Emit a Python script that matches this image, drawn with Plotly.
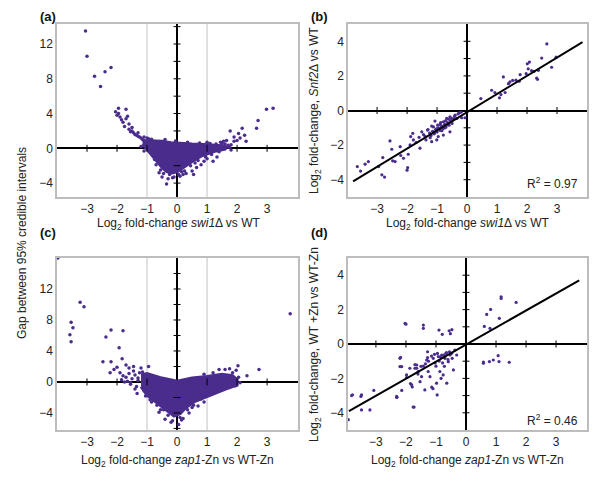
import plotly.graph_objects as go

PURPLE = "#4a2c8c"
FONT = "Liberation Sans, Arial, sans-serif"
TXT = "#222222"

# page body adds an 8px margin, so the figure is laid out 8px smaller
OFF = 8
W, H = 600 - OFF, 490 - OFF

# ---- panel (a): swi1 volcano-like plot ----
a_core_x = [-1.15, -0.9, -0.5, -0.2, 0.1, 0.5, 0.9, 1.2, 1.5, 1.65,
            1.6, 1.3, 1.05, 0.8, 0.6, 0.4, 0.2, 0.0, -0.2, -0.35,
            -0.5, -0.65, -0.8, -0.95, -1.05, -1.15]
a_core_y = [0.9, 0.85, 0.8, 0.65, 0.55, 0.5, 0.45, 0.4, 0.3, 0.15,
            -0.1, -0.3, -0.6, -0.9, -1.3, -1.8, -2.3, -2.7, -2.85, -2.65,
            -2.2, -1.6, -1.0, -0.4, 0.1, 0.5]
a_pts_x = [-3.05, -3.0, -2.75, -2.4, -2.2, -2.55,
           -2.05, -1.95, -1.95, -1.7, -1.65, -1.9, -1.8, -1.6, -1.75, -1.6,
           -1.5, -1.45, -1.4, -1.3, -1.25, -1.55, -1.35, -1.2, -1.1, -0.95,
           -2.0, -1.85, -1.7, -1.5, -1.3, -1.0, -1.15, -1.05,
           -0.35, -0.3, -0.5, -0.1, 0.1, 0.3, 0.5, 0.55, 0.65, 0.8, 0.9,
           1.2, 1.0, 1.3, -0.6, -0.15, 0.2,
           1.45, 1.55, 1.65, 1.8, 1.9, 2.05, 2.1, 2.25, 2.3, 2.0, 1.75,
           1.8, 2.65, 2.7, 2.98, 3.2, 1.77, 1.9, 2.17, 1.33, 1.0,
           -0.7, -0.55, -0.45, -0.25, 0.05, 0.25, 0.45, 0.7, 0.95, 1.15, 1.4,
           -0.85, -0.4, -0.05, 0.35, 0.75, 1.1, -1.2, -1.1, -0.75, 0.15, 0.6,
           1.5, 1.6, 1.7]
a_pts_y = [13.5, 10.6, 8.3, 8.8, 9.3, 7.1,
           4.2, 4.6, 4.0, 4.5, 3.7, 3.6, 3.0, 2.8, 2.5, 2.2,
           2.0, 1.8, 1.6, 1.4, 1.3, 1.9, 1.5, 1.2, 1.3, 1.1,
           3.8, 3.3, 3.4, 2.4, 1.8, 1.2, 1.0, 0.7,
           -4.1, -3.5, -3.3, -3.3, -3.2, -2.9, -2.6, -3.0, -2.2, -1.9, -1.5,
           -1.5, 0.7, 0.5, -2.8, -3.4, -3.0,
           0.7, 0.8, 0.9, 0.4, 0.8, 1.7, 1.2, 1.5, 0.8, 0.9, 0.1,
           -0.2, 2.3, 3.2, 4.5, 4.6, 2.0, 1.3, 2.3, -1.0, -1.2,
           -1.9, -2.5, -2.9, -3.0, -3.0, -2.6, -2.0, -1.4, -1.0, -0.7, -0.4,
           1.05, 1.0, 0.85, 0.7, 0.6, 0.55, 0.2, -0.3, -1.3, -2.7, -1.7,
           0.55, 0.5, 0.35]

# ---- panel (c): zap1 volcano-like plot ----
c_core_x = [-1.2, -1.0, -0.5, 0.0, 0.5, 1.0, 1.5, 1.85, 2.0,
            2.0, 1.7, 1.3, 1.0, 0.6, 0.3, 0.1, -0.1, -0.3, -0.5,
            -0.8, -1.0, -1.2]
c_core_y = [0.9, 1.1, 0.5, 0.1, 0.5, 0.7, 1.0, 0.8, 0.3,
            -0.4, -0.8, -1.4, -1.9, -2.5, -3.3, -4.1, -4.4, -3.8, -3.1,
            -2.3, -1.7, -0.6]
c_pts_x = [-3.97, -3.23, -3.1, -3.53, -3.47, -3.57, -3.53,
           -2.2, -2.37, -1.8, -1.93, -2.47, -2.2, -1.83, -2.23, -2.0,
           -2.1, -1.7, -1.6, -1.45, -1.2, -0.95, -1.75, -1.55,
           3.77, 2.73, 2.33, 2.03, 1.97, 1.6, 1.75, 1.85, 1.4,
           -0.2, 0.05, -0.4, 0.2, -0.6, 0.4, -1.33, -0.9, -0.67, 0.7, 0.9,
           -1.9, -1.8, -1.7, -1.6, -1.5, -1.4, -1.3, -1.85, -1.65, -1.45, -1.35,
           -1.25, -1.55, -1.4, -1.3, -1.15, -1.1, -1.05, -0.85, -0.75,
           -0.45, -0.3, 0.1, 0.35, 0.55, 0.8, 1.1, 1.3, 1.55, 1.75, 1.95,
           2.1, 2.05, 1.2, 0.9, -0.15, 0.15, -0.55, 0.5]
c_pts_y = [16.0, 10.3, 9.7, 7.7, 7.0, 6.1, 5.2,
           6.7, 5.8, 6.6, 4.4, 2.6, 2.6, 3.0, 1.2, 1.9,
           1.6, 2.2, 1.8, 2.0, 1.8, 2.0, 0.0, -0.3,
           8.8, 1.6, 0.8, 2.1, 1.5, 1.6, 1.7, 1.2, 1.6,
           -5.2, -5.5, -4.8, -4.7, -3.9, -4.0, -1.5, -2.3, -3.0, -3.1, -2.6,
           1.2, 0.8, 0.6, 1.1, 0.4, 0.9, 0.2, 0.3, 0.1, 1.4, -0.6,
           1.2, -0.1, -0.9, 0.5, 1.3, -1.1, -1.8, -2.6, -2.0,
           -3.6, -4.3, -4.6, -3.6, -3.0, -2.2, -1.6, -1.2, -0.9, -0.7, -0.5,
           -0.1, 0.6, 1.2, 1.0, -5.0, -4.9, -3.6, -3.3]

# ---- panel (b): swi1 vs snf2 ----
b_x = [2.66, 2.97, 2.82, 2.49, 2.08, 2.01, 2.04, 2.15, 2.23, 2.38, 2.32, 2.35,
       1.97, 1.77, 1.74, 1.63, 1.52, 1.43, 1.38, 1.21, 1.27, 1.13, 1.08, 0.93,
       0.82, 0.46,
       -3.66, -3.4, -3.29, -2.84, -2.81, -2.95, -2.57, -2.51, -2.48, -2.4, -2.23,
       -2.21, -2.12, -1.96, -1.98, -1.9, -1.88, -1.81, -1.79, -1.57, -1.51, -1.37,
       -1.32, -1.23, -1.18, -1.09, -1.07, -1.01, -0.96, -0.9, -0.84, -0.79, -0.73,
       -0.68, -0.62, -0.57, -0.51, -0.4, -0.34, -0.26, -0.18, -0.07, -0.57, -0.79,
       -1.01, -1.18, -2.75, -2.0, -3.55,
       -1.25, -1.15, -1.05, -0.95, -0.85, -0.75, -0.65, -0.55, -0.45, -1.2, -1.1,
       -1.0, -0.9, -0.8, -0.7, -0.6, -0.5, -1.3, -1.4, -0.88, -0.72, -0.62, -0.98,
       -1.12, -0.52, -0.42, -1.45, -1.6, -1.7, -0.3, -0.2]
b_y = [3.85, 3.08, 2.5, 3.03, 2.8, 2.7, 2.41, 2.3, 2.26, 2.32, 1.88, 1.8,
       2.13, 2.07, 1.69, 1.75, 1.74, 1.65, 1.55, 1.94, 1.04, 0.92, 0.73, 1.04,
       1.17, 0.69,
       -3.24, -3.1, -2.95, -3.72, -2.72, -3.24, -1.76, -2.24, -2.91, -2.95, -2.09,
       -2.6, -2.76, -2.53, -3.3, -1.99, -1.51, -1.32, -1.7, -2.18, -1.23, -1.7,
       -1.13, -1.57, -0.9, -1.32, -0.61, -1.05, -1.51, -0.8, -1.17, -0.65, -1.0,
       -0.46, -0.82, -0.36, -0.63, -0.27, -0.46, -0.13, -0.42, -0.42, -1.23, -1.42,
       -1.7, -1.8, -3.85, -3.45, -3.5,
       -1.3, -1.2, -1.1, -1.0, -0.9, -0.8, -0.7, -0.6, -0.5, -1.45, -1.35,
       -1.25, -1.15, -1.05, -0.95, -0.85, -0.75, -1.1, -1.5, -0.7, -0.6, -0.5,
       -0.85, -0.95, -0.45, -0.35, -1.4, -1.55, -1.85, -0.2, -0.1]
b_fit_x = [-3.8, 3.85]
b_fit_y = [-4.1, 3.95]

# ---- panel (d): zap1 vs WT +Zn ----
d_x = [-2.03, -2.0, -1.42, -1.42, -0.9, -0.79, -0.56, -0.52, -0.47,
       1.17, 1.17, 1.67, 0.82, 0.69, 1.11, 0.61, 0.8,
       0.58, 0.58, 0.78, 0.91, 1.07, 1.1, 1.44,
       -3.92, -3.81, -3.78, -3.48, -3.5, -3.48, -3.2, -3.07, -2.31, -2.3, -2.14,
       -2.2, -2.18, -1.98, -1.73, -1.64, -1.7,
       -2.2, -2.14, -1.98, -1.87, -1.81, -1.79, -1.7, -1.64, -1.59, -1.53, -1.48,
       -1.42, -1.37, -1.31, -1.28, -1.26, -1.2, -1.14, -1.09, -1.03, -1.0, -0.98,
       -0.96, -0.92, -0.89, -0.87, -0.81, -0.78, -0.76, -0.7, -0.67, -0.64, -0.59,
       -0.53, -0.48, -0.42, -0.37, -0.31, -0.46, -2.31, -1.76, -1.28,
       -1.15, -1.05, -0.95, -0.85, -0.75, -0.65, -0.55, -1.25, -1.35, -1.5,
       -1.6, -1.85, -0.6, -0.72, -0.83, -1.1]
d_y = [1.2, 1.15, 1.1, 0.91, 0.81, 0.56, 0.77, 0.6, 0.83,
       2.74, 2.65, 2.42, 2.01, 1.72, 1.49, 1.02, 0.91,
       -1.12, -1.05, -1.02, -0.93, -0.68, -1.02, -1.06,
       -4.4, -3.0, -2.95, -2.96, -3.05, -3.83, -3.83, -2.7, -3.05, -3.1, -2.7,
       -1.31, -0.77, -1.95, -3.67, -1.41, -1.2,
       -0.83, -1.31, -1.8, -1.41, -2.38, -2.5, -1.41, -1.22, -1.6, -2.19, -1.9,
       -1.29, -2.67, -0.93, -0.79, -1.6, -1.9, -2.51, -0.83, -1.1, -1.29, -2.28,
       -2.96, -0.73, -0.99, -1.6, -0.64, -1.1, -1.8, -0.83, -0.54, -2.28, -1.03,
       -0.64, -0.54, -1.51, -0.35, -0.64, -0.83, -3.1, -3.67, -0.45,
       -0.7, -0.6, -0.55, -0.75, -0.65, -0.5, -0.45, -1.0, -1.15, -1.3,
       -1.75, -2.3, -0.9, -1.3, -2.0, -2.6]
d_fit_x = [-3.9, 3.77]
d_fit_y = [-3.9, 3.7]

# small tick marks drawn along the zero axes
a_vtick = [-4, -2, 2, 4, 6, 8, 10, 12, 14]
c_vtick = [-6, -4, -2, 2, 4, 6, 8, 10, 12, 14]
bd_vtick = [-4, -3, -2, -1, 1, 2, 3, 4]
htick = [-3, -2, -1, 1, 2, 3]
guide_x = [-1, 1]

fig = go.Figure()


def dots(x, y, xa, ya, size=3.5):
    fig.add_trace(go.Scatter(x=x, y=y, mode="markers", xaxis=xa, yaxis=ya,
                             marker=dict(color=PURPLE, size=size, line=dict(width=0)),
                             hoverinfo="skip"))


def blob(x, y, xa, ya):
    fig.add_trace(go.Scatter(x=x, y=y, mode="lines", fill="toself", xaxis=xa, yaxis=ya,
                             fillcolor=PURPLE, line=dict(color=PURPLE, width=3),
                             hoverinfo="skip"))


def zero_ticks(vt, xa, ya):
    fig.add_trace(go.Scatter(x=[0] * len(vt), y=vt, mode="markers", xaxis=xa, yaxis=ya,
                             marker=dict(symbol="line-ew", size=5, line=dict(color="black", width=1)),
                             hoverinfo="skip"))
    fig.add_trace(go.Scatter(x=htick, y=[0] * len(htick), mode="markers", xaxis=xa, yaxis=ya,
                             marker=dict(symbol="line-ns", size=5, line=dict(color="black", width=1)),
                             hoverinfo="skip"))


blob(a_core_x, a_core_y, "x", "y")
dots(a_pts_x, a_pts_y, "x", "y")
zero_ticks(a_vtick, "x", "y")

dots(b_x, b_y, "x2", "y2", 3.2)
fig.add_trace(go.Scatter(x=b_fit_x, y=b_fit_y, mode="lines", xaxis="x2", yaxis="y2",
                         line=dict(color="black", width=2), hoverinfo="skip"))
zero_ticks(bd_vtick, "x2", "y2")

blob(c_core_x, c_core_y, "x3", "y3")
dots(c_pts_x, c_pts_y, "x3", "y3")
zero_ticks(c_vtick, "x3", "y3")

dots(d_x, d_y, "x4", "y4", 3.2)
fig.add_trace(go.Scatter(x=d_fit_x, y=d_fit_y, mode="lines", xaxis="x4", yaxis="y4",
                         line=dict(color="black", width=2), hoverinfo="skip"))
zero_ticks(bd_vtick, "x4", "y4")

# vertical guide lines at +/-1 in the volcano panels
for ax, yref in [("x", "y domain"), ("x3", "y3 domain")]:
    for gx in guide_x:
        fig.add_shape(type="line", xref=ax, yref=yref, x0=gx, x1=gx, y0=0, y1=1,
                      line=dict(color="#c4c4c4", width=1), layer="below")

axis_common = dict(showgrid=False, showline=True, mirror=True, linecolor="#bdbdbd",
                   linewidth=1.5, zeroline=True, zerolinecolor="black", zerolinewidth=1.5,
                   ticks="", tickfont=dict(family=FONT, size=12, color=TXT))
xt = [-3, -2, -1, 0, 1, 2, 3]


def px_x(v):
    return (v - OFF) / W


def px_y(v):
    return 1 - (v - OFF) / H


left = [px_x(57), px_x(298)]
right = [px_x(348), px_x(587)]
top = [px_y(197), px_y(24)]
bottom = [px_y(430), px_y(258)]

fig.update_layout(
    width=W, height=H, margin=dict(l=0, r=0, t=0, b=0),
    paper_bgcolor="white", plot_bgcolor="white", showlegend=False,
    font=dict(family=FONT, size=12, color=TXT),
    xaxis=dict(domain=left, anchor="y", range=[-4.0, 4.03], tickvals=xt, **axis_common),
    yaxis=dict(domain=top, anchor="x", range=[-5.6, 14.3], tickvals=[-4, 0, 4, 8, 12], **axis_common),
    xaxis2=dict(domain=right, anchor="y2", range=[-3.97, 4.0], tickvals=xt, **axis_common),
    yaxis2=dict(domain=top, anchor="x2", range=[-5, 5], tickvals=[-4, -2, 0, 2, 4], **axis_common),
    xaxis3=dict(domain=left, anchor="y3", range=[-4.0, 4.03], tickvals=xt, **axis_common),
    yaxis3=dict(domain=bottom, anchor="x3", range=[-6.2, 16], tickvals=[-4, 0, 4, 8, 12], **axis_common),
    xaxis4=dict(domain=right, anchor="y4", range=[-3.93, 4.03], tickvals=xt, **axis_common),
    yaxis4=dict(domain=bottom, anchor="x4", range=[-5, 5], tickvals=[-4, -2, 0, 2, 4], **axis_common),
)


def note(text, x, y, size=12, angle=0, xanchor="center", bold=False):
    fig.add_annotation(text=f"<b>{text}</b>" if bold else text, xref="paper", yref="paper",
                       x=px_x(x), y=px_y(y), xanchor=xanchor, yanchor="middle",
                       textangle=angle, showarrow=False,
                       font=dict(family=FONT, size=size, color="#111111" if bold else TXT))


note("(a)", 48, 16, 13, bold=True)
note("(b)", 320, 16, 13, bold=True)
note("(c)", 48, 232, 13, bold=True)
note("(d)", 320, 232, 13, bold=True)

note("Log<sub>2</sub> fold-change <i>swi1</i>Δ vs WT", 178, 224)
note("Log<sub>2</sub> fold-change <i>swi1</i>Δ vs WT", 467, 224)
note("Log<sub>2</sub> fold-change <i>zap1</i>-Zn vs WT-Zn", 177, 461)
note("Log<sub>2</sub> fold-change <i>zap1</i>-Zn vs WT-Zn", 467, 461)

note("Gap between 95% credible intervals", 22, 243, angle=-90)
note("Log<sub>2</sub> fold-change, <i>Snf2</i>Δ vs WT", 315, 110, angle=-90)
note("Log<sub>2</sub> fold-change, WT +Zn vs WT-Zn", 315, 344, angle=-90)

note("R<sup>2</sup> = 0.97", 580, 183, xanchor="right")
note("R<sup>2</sup> = 0.46", 580, 420, xanchor="right")

fig.write_html("out.html")
